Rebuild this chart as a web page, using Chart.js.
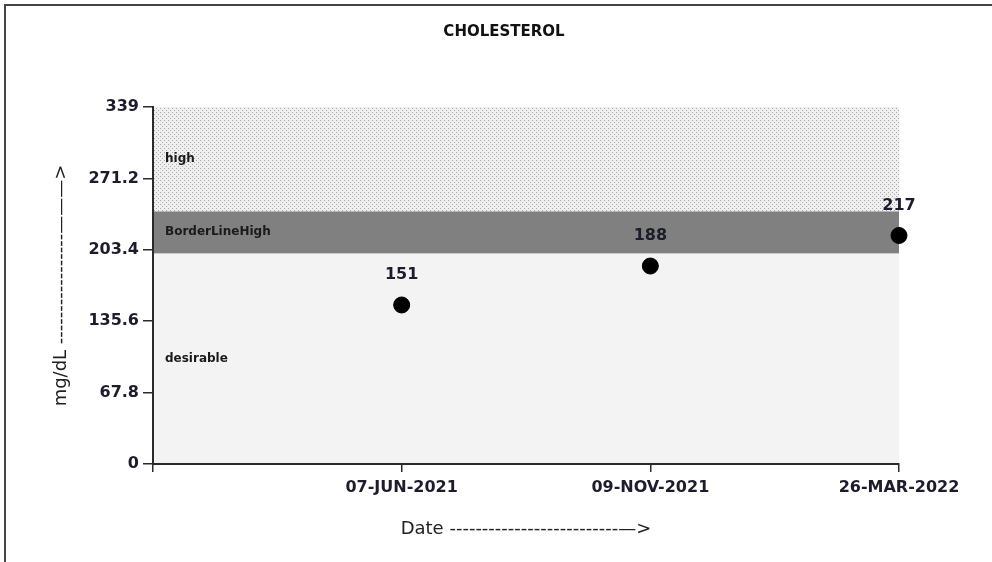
<!DOCTYPE html>
<html>
<head>
<meta charset="utf-8">
<script src="https://cdn.jsdelivr.net/npm/chart.js@4.4.1/dist/chart.umd.min.js"></script>
<style>
  body { margin: 0; background: #fff; }
  #frame { position: absolute; left: 4px; top: 4px; width: 1000px; height: 570px;
           border-left: 2px solid #444; border-top: 2px solid #444; }
  #chart { position: absolute; left: 0; top: 0; }
</style>
</head>
<body>
<div id="frame"></div>
<canvas id="chart" width="992" height="562"></canvas>
<script>
// data
const dateLabels = ["", "07-JUN-2021", "09-NOV-2021", "26-MAR-2022"];
const cholesterol = [null, 151, 188, 217];
const yTicks = [0, 67.8, 135.6, 203.4, 271.2, 339];

// reference ranges
const bandNames = ["desirable", "BorderLineHigh", "high"];
const bandLow = [0, 200, 240];
const bandHigh = [200, 240, 339];

const textColor = "#1c1c2c";
const axisColor = "#2a2a2a";

function dotPattern() {
  const c = document.createElement("canvas");
  c.width = 4;
  c.height = 4;
  const g = c.getContext("2d");
  g.fillStyle = "#efefef";
  g.fillRect(0, 0, 4, 4);
  g.fillStyle = "#a8a8a8";
  g.fillRect(0, 0, 1, 1);
  g.fillRect(2, 2, 1, 1);
  return g.createPattern(c, "repeat");
}

const ctx = document.getElementById("chart").getContext("2d");
const bandFills = ["#f3f3f3", "#808080", dotPattern()];

const bandsPlugin = {
  id: "bands",
  beforeDraw(chart) {
    const { ctx, chartArea, scales } = chart;
    ctx.save();
    bandNames.forEach((name, i) => {
      const top = scales.y.getPixelForValue(bandHigh[i]);
      const bottom = scales.y.getPixelForValue(bandLow[i]);
      ctx.fillStyle = bandFills[i];
      ctx.fillRect(chartArea.left, top, chartArea.right - chartArea.left, bottom - top);
      ctx.fillStyle = "#1a1a1a";
      ctx.font = "bold 12px 'DejaVu Sans'";
      ctx.textAlign = "left";
      ctx.textBaseline = "middle";
      ctx.fillText(name, chartArea.left + 12, (top + bottom) / 2);
    });
    ctx.restore();
  },
};

const valueLabels = {
  id: "valueLabels",
  afterDatasetsDraw(chart) {
    const { ctx } = chart;
    const meta = chart.getDatasetMeta(0);
    ctx.save();
    ctx.fillStyle = textColor;
    ctx.font = "bold 16px 'DejaVu Sans'";
    ctx.textAlign = "center";
    ctx.textBaseline = "middle";
    meta.data.forEach((pt, i) => {
      if (cholesterol[i] == null) return;
      ctx.fillText(String(cholesterol[i]), pt.x, pt.y - 30);
    });
    ctx.restore();
  },
};

new Chart(ctx, {
  type: "line",
  data: {
    labels: dateLabels,
    datasets: [
      {
        data: cholesterol,
        showLine: false,
        pointRadius: 8,
        pointHoverRadius: 8,
        pointBackgroundColor: "#000",
        pointBorderColor: "#000",
        clip: false,
      },
    ],
  },
  options: {
    responsive: false,
    animation: false,
    devicePixelRatio: 1,
    layout: { padding: { left: 16, top: 0, right: 0, bottom: 0 } },
    plugins: {
      legend: { display: false },
      tooltip: { enabled: false },
      title: {
        display: true,
        text: "CHOLESTEROL",
        color: "#111",
        font: { family: "'DejaVu Sans'", size: 15, weight: "bold" },
        padding: { top: 23, bottom: 66 },
      },
    },
    scales: {
      x: {
        type: "category",
        offset: false,
        grid: { display: true, drawOnChartArea: false, drawTicks: true, tickLength: 8, color: axisColor, lineWidth: 1.5 },
        border: { display: true, color: axisColor, width: 2 },
        ticks: {
          color: textColor,
          padding: 6,
          maxRotation: 0,
          autoSkip: false,
          font: { family: "'DejaVu Sans'", size: 16, weight: "bold" },
        },
        title: {
          display: true,
          text: "Date " + "-".repeat(26) + "\u2014>",
          color: "#222",
          font: { family: "'DejaVu Sans'", size: 18 },
          padding: { top: 0, bottom: 22 },
        },
        afterFit(scale) {
          scale.height = 98;
          scale.paddingRight = 93;
        },
      },
      y: {
        min: 0,
        max: 339,
        grid: { display: true, drawOnChartArea: false, drawTicks: true, tickLength: 10, color: axisColor, lineWidth: 1.5 },
        border: { display: true, color: axisColor, width: 2 },
        afterBuildTicks(scale) {
          scale.ticks = yTicks.map((v) => ({ value: v }));
        },
        ticks: {
          color: textColor,
          padding: 4,
          font: { family: "'DejaVu Sans'", size: 16, weight: "bold" },
          callback: (v) => String(Math.round(v * 10) / 10),
        },
        title: {
          display: true,
          text: "mg/dL " + "-".repeat(17) + "\u2014\u2014\u2014>",
          color: "#222",
          font: { family: "'DejaVu Sans'", size: 18 },
          padding: { top: 35, bottom: 0 },
        },
        afterFit(scale) {
          scale.width = 137;
        },
      },
    },
  },
  plugins: [bandsPlugin, valueLabels],
});
</script>
</body>
</html>
